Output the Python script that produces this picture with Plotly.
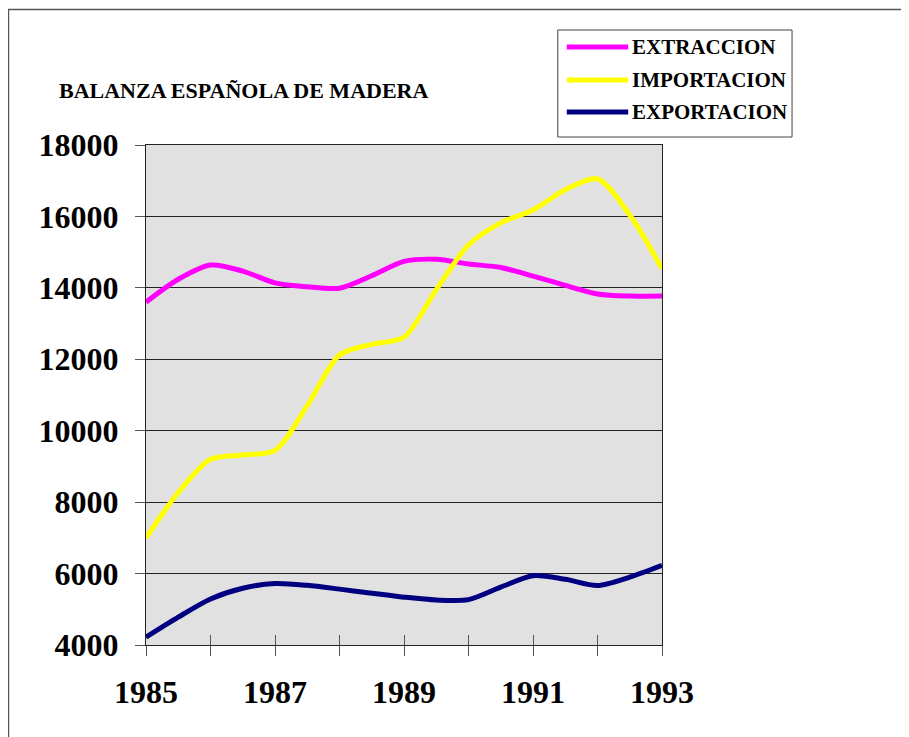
import plotly.graph_objects as go

# half-year points
years = [1985.0, 1985.5, 1986.0, 1986.5, 1987.0, 1987.5, 1988.0, 1988.5, 1989.0,
         1989.5, 1990.0, 1990.5, 1991.0, 1991.5, 1992.0, 1992.5, 1993.0]

extraccion = [13600, 14240, 14640, 14470, 14140, 14030, 13990, 14340, 14740,
              14800, 14670, 14570, 14330, 14070, 13830, 13770, 13770]
importacion = [7000, 8270, 9200, 9320, 9450, 10700, 12120, 12420, 12620,
               13950, 15200, 15820, 16180, 16750, 17050, 16040, 14540]
exportacion = [4220, 4780, 5290, 5590, 5720, 5670, 5565, 5450, 5340,
               5260, 5270, 5620, 5940, 5840, 5665, 5900, 6230]

series_names = ["EXTRACCION", "IMPORTACION", "EXPORTACION"]
series_colors = ["#FF00FF", "#FFFF00", "#000080"]

tick_years = [1985, 1986, 1987, 1988, 1989, 1990, 1991, 1992, 1993]
tick_text = ["1985", "", "1987", "", "1989", "", "1991", "", "1993"]
y_ticks = [4000, 6000, 8000, 10000, 12000, 14000, 16000, 18000]

serif = "Liberation Serif, Times New Roman, serif"

fig = go.Figure()
for name, vals, col in zip(series_names, [extraccion, importacion, exportacion], series_colors):
    fig.add_trace(go.Scatter(x=years, y=vals, name=name, mode="lines",
                             line=dict(color=col, width=5, shape="spline", smoothing=0.8),
                             showlegend=False))

# page has an 8px body margin, so plot box is moved up/left by 8
fig.update_layout(
    width=909, height=737,
    margin=dict(l=138, r=255, t=137, b=100),
    paper_bgcolor="white",
    plot_bgcolor="#e1e1e1",
    xaxis=dict(range=[1985, 1993], tickvals=tick_years, ticktext=tick_text,
               ticks="outside", ticklen=10, tickcolor="#555", tickwidth=1,
               showgrid=False, zeroline=False,
               showline=True, linecolor="#222", linewidth=1, mirror=True,
               tickfont=dict(family=serif, size=32, color="black", weight="bold"),
               ticklabelstandoff=9),
    # second x axis only to get the tick marks crossing into the plot
    xaxis2=dict(range=[1985, 1993], overlaying="x", anchor="y", side="bottom",
                tickvals=tick_years, ticks="inside", ticklen=10, tickcolor="#555",
                tickwidth=1,
                showticklabels=False, showgrid=False, zeroline=False, showline=False),
    yaxis=dict(range=[4000, 18000], tickvals=y_ticks, tickformat="d",
               ticks="outside", ticklen=10, tickcolor="#555",
               showgrid=True, gridcolor="#222", gridwidth=1, zeroline=False,
               showline=True, linecolor="#222", linewidth=1, mirror=True,
               tickfont=dict(family=serif, size=32, color="black", weight="bold"),
               ticklabelstandoff=10),
)

# invisible copy so the inside-tick axis gets drawn
fig.add_trace(go.Scatter(x=years, y=extraccion, xaxis="x2", mode="lines",
                         line=dict(width=0), hoverinfo="skip", showlegend=False,
                         opacity=0))

# outer frame
fig.add_shape(type="rect", xref="paper", yref="paper",
              x0=-0.2665, y0=-0.4, x1=1.7, y1=1.271,
              line=dict(color="#555", width=1.5), layer="below")

# title
fig.add_annotation(text="BALANZA ESPAÑOLA DE MADERA", xref="paper", yref="paper",
                   x=-0.1725, y=1.108, xanchor="left", yanchor="middle",
                   showarrow=False,
                   font=dict(family=serif, size=22, color="black", weight="bold"))

# legend box
fig.add_shape(type="rect", xref="paper", yref="paper",
              x0=0.798, y0=1.016, x1=1.252, y1=1.23,
              line=dict(color="#444", width=1), fillcolor="white")
leg_y = [1.196, 1.130, 1.066]
for name, col, ly in zip(series_names, series_colors, leg_y):
    fig.add_shape(type="line", xref="paper", yref="paper",
                  x0=0.8155, x1=0.9345, y0=ly, y1=ly,
                  line=dict(color=col, width=5))
    fig.add_annotation(text=name, xref="paper", yref="paper",
                       x=0.9375, y=ly, xanchor="left", yanchor="middle",
                       showarrow=False,
                       font=dict(family=serif, size=21, color="black", weight="bold"))

fig.write_html("out.html")
